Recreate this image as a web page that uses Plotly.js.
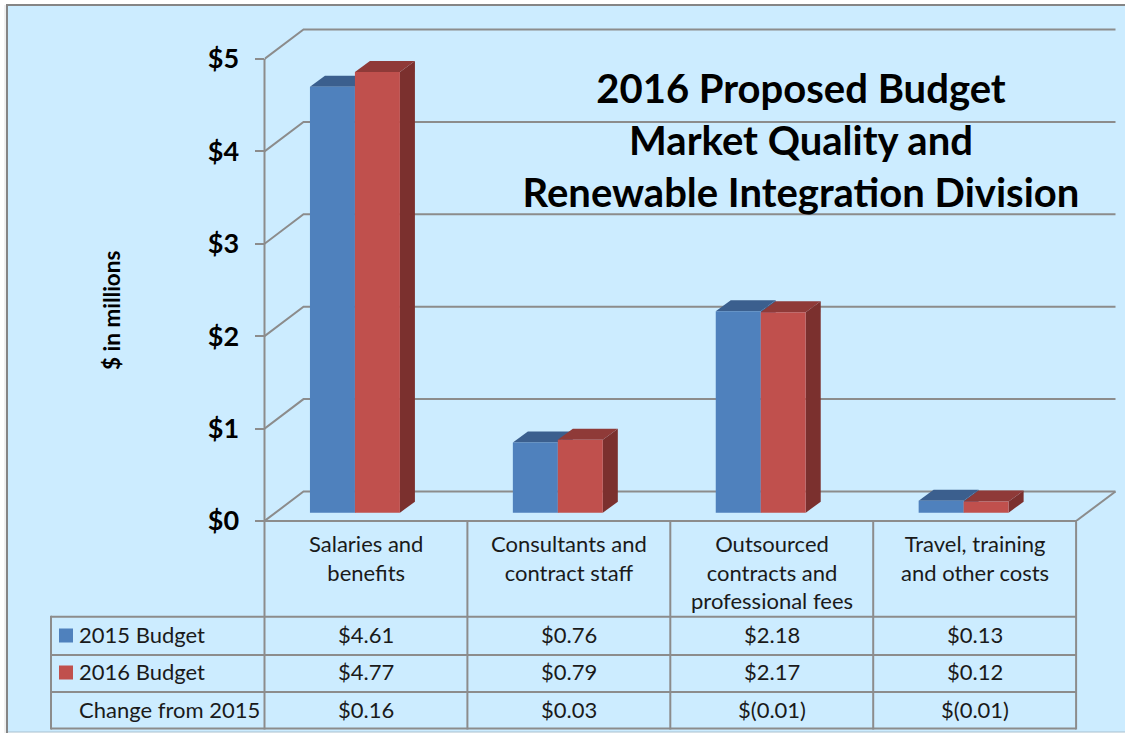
<!DOCTYPE html>
<html>
<head>
<meta charset="utf-8">
<script src="https://cdn.plot.ly/plotly-3.0.1.min.js"></script>
<style>html,body{margin:0;padding:0;background:#fff}</style>
</head>
<body>
<div id="chart" style="width:1125px;height:733px"></div>
<script>
const categories = ["Salaries and<br>benefits", "Consultants and<br>contract staff", "Outsourced<br>contracts and<br>professional fees", "Travel, training<br>and other costs"];
const budget2015 = [4.61, 0.76, 2.18, 0.13];
const budget2016 = [4.77, 0.79, 2.17, 0.12];
const changeLabels = ["$0.16", "$0.03", "$(0.01)", "$(0.01)"];
const yTicks = [0, 1, 2, 3, 4, 5];
const yTickText = ["$0", "$1", "$2", "$3", "$4", "$5"];
const rowLabels = ["2015 Budget", "2016 Budget", "Change from 2015"];

const W = 1125, H = 733;
const FONT = "Lato, Carlito, Calibri, sans-serif";
const GRID = "#8c8c8c", INK = "#1a1a1a";
const px = {x0: 264.5, catW: 202.9, y0: 521, unit: 92.4, depthX: 39, depthY: 29.5, right: 1115.5, axisRight: 1122, axisTop: 20};
const xEnd = (px.right - px.x0) / px.catW;
const xMax = (px.axisRight - px.x0) / px.catW, yMax = (px.y0 - px.axisTop) / px.unit;
const wallDX = px.depthX / px.catW, wallDY = px.depthY / px.unit;
const barDX = 15 / px.catW, barDY = 11 / px.unit;
const barOffset = 0.224, barWidth = 0.2217, barBase = 0.09;
const xs = categories.map((_, i) => i);
const px2x = v => v / W, px2y = v => 1 - v / H;
const hLine = (x0, x1, y, color, width) => ({type: "line", xref: "paper", yref: "paper", layer: "below", x0: px2x(x0), x1: px2x(x1), y0: px2y(y), y1: px2y(y), line: {color: color || GRID, width: width || 2}});
const vLine = (x, y0, y1, color, width) => ({type: "line", xref: "paper", yref: "paper", layer: "below", x0: px2x(x), x1: px2x(x), y0: px2y(y0), y1: px2y(y1), line: {color: color || GRID, width: width || 2}});

const shapes = [];
// panel
shapes.push({type: "rect", xref: "paper", yref: "paper", x0: px2x(7), x1: 1, y0: px2y(732), y1: px2y(5),
  fillcolor: "#CCECFF", line: {width: 0}, layer: "below"});
shapes.push(vLine(5, 5, 733, "#e2e2e2", 1));
shapes.push(vLine(7, 4, 733, "#858585", 2));
shapes.push(hLine(6, W, 5, "#858585", 2));
shapes.push(hLine(8, W, 732, "#a8c0ce", 1));

// walls and gridlines
yTicks.forEach(v => {
  shapes.push({type: "path", xref: "x", yref: "y", layer: "below", line: {color: GRID, width: 2},
    path: `M 0 ${v} L ${wallDX} ${v + wallDY} L ${xEnd} ${v + wallDY}`});
});
shapes.push({type: "line", xref: "x", yref: "y", layer: "below", x0: 4, x1: xEnd, y0: 0, y1: wallDY, line: {color: GRID, width: 2}});

// depth faces of the bars
function depthFaces(values, offset, topColor, sideColor) {
  values.forEach((v, i) => {
    const a = i + offset, b = a + barWidth, t = v + barBase, bb = barBase;
    shapes.push({type: "path", xref: "x", yref: "y", layer: "below", fillcolor: sideColor, line: {width: 0},
      path: `M ${b} ${bb} L ${b + barDX} ${bb + barDY} L ${b + barDX} ${t + barDY} L ${b} ${t} Z`});
    shapes.push({type: "path", xref: "x", yref: "y", layer: "below", fillcolor: topColor, line: {width: 0},
      path: `M ${a} ${t} L ${b} ${t} L ${b + barDX} ${t + barDY} L ${a + barDX} ${t + barDY} Z`});
  });
}
depthFaces(budget2015, barOffset, "#3B5F8E", "#3B5F8E");
depthFaces(budget2016, barOffset + barWidth, "#8F3A38", "#7B302E");

// data table grid
const rowY = [616.7, 655, 692, 728.5];
const rowText = [634.5, 671.5, 709];
const tableLeft = 51;
const tableRight = px.x0 + 4 * px.catW;
shapes.push(vLine(px.x0, px.y0 - 462, px.y0));
shapes.push(hLine(px.x0 - 9, tableRight, px.y0));
rowY.forEach(y => shapes.push(hLine(tableLeft, tableRight, y)));
shapes.push(vLine(tableLeft, rowY[0] - 1, rowY[3] + 1));
for (let i = 0; i <= 4; i++) shapes.push(vLine(px.x0 + i * px.catW, px.y0, rowY[3] + 1));
// legend keys
[["#4F81BD", 635.5], ["#C0504D", 672.5]].forEach(([c, y]) => shapes.push({type: "rect", xref: "paper", yref: "paper", layer: "below",
  x0: px2x(59), x1: px2x(73), y0: px2y(y - 7), y1: px2y(y + 7), fillcolor: c, line: {width: 0}}));

// annotations
const TABLE_SIZE = 22;
const annotations = [];
const cell = (text, xv, xref, y, anchor) => ({text, x: xv, xref, y: px2y(y), yref: "paper", xanchor: anchor, yanchor: "middle",
  showarrow: false, align: anchor === "left" ? "left" : "center", font: {family: FONT, size: TABLE_SIZE, color: INK}});
categories.forEach((c, i) => {
  const a = cell(c, i + 0.5, "x", 0, "center");
  a.yanchor = "top"; a.y = px2y(528);
  annotations.push(a);
  annotations.push(cell("$" + budget2015[i].toFixed(2), i + 0.5, "x", rowText[0], "center"));
  annotations.push(cell("$" + budget2016[i].toFixed(2), i + 0.5, "x", rowText[1], "center"));
  annotations.push(cell(changeLabels[i], i + 0.5, "x", rowText[2], "center"));
});
rowLabels.forEach((r, i) => annotations.push(cell(r, px2x(77), "paper", rowText[i], "left")));
annotations.push({text: "<b>$ in millions</b>", textangle: -90, x: px2x(111), y: px2y(311), xref: "paper", yref: "paper",
  showarrow: false, xanchor: "center", yanchor: "middle", font: {family: FONT, size: 22.5, color: "#000"}});

const data = [
  {type: "bar", name: "2015 Budget", x: xs, y: budget2015, base: budget2015.map(() => barBase), offset: barOffset, width: barWidth,
   marker: {color: "#4F81BD", line: {width: 0}}, hoverinfo: "none"},
  {type: "bar", name: "2016 Budget", x: xs, y: budget2016, base: budget2016.map(() => barBase), offset: barOffset + barWidth, width: barWidth,
   marker: {color: "#C0504D", line: {width: 0}}, hoverinfo: "none"}
];

const layout = {
  width: W, height: H,
  margin: {l: 0, r: 0, t: 0, b: 0},
  paper_bgcolor: "#ffffff", plot_bgcolor: "rgba(0,0,0,0)",
  showlegend: false, barmode: "overlay",
  title: {text: "<b>2016 Proposed Budget<br>Market Quality and<br>Renewable Integration Division</b>", x: 801 / W, xanchor: "center", y: px2y(103), yanchor: "top",
    font: {family: FONT, size: 40, color: "#000"}},
  xaxis: {domain: [px.x0 / W, px.axisRight / W], range: [0, xMax], showgrid: false, zeroline: false, showline: false, showticklabels: false, ticks: "", fixedrange: true},
  yaxis: {domain: [1 - px.y0 / H, 1 - px.axisTop / H], range: [0, yMax], tickvals: yTicks, ticktext: yTickText, showgrid: false, zeroline: false, showline: false,
    ticks: "outside", ticklen: 9, tickwidth: 2, tickcolor: GRID, ticklabelstandoff: 10,
    tickfont: {family: FONT, size: 27, color: "#000", weight: "bold"}, fixedrange: true},
  shapes, annotations
};
Plotly.newPlot("chart", data, layout, {displayModeBar: false, staticPlot: true});
</script>
</body>
</html>
